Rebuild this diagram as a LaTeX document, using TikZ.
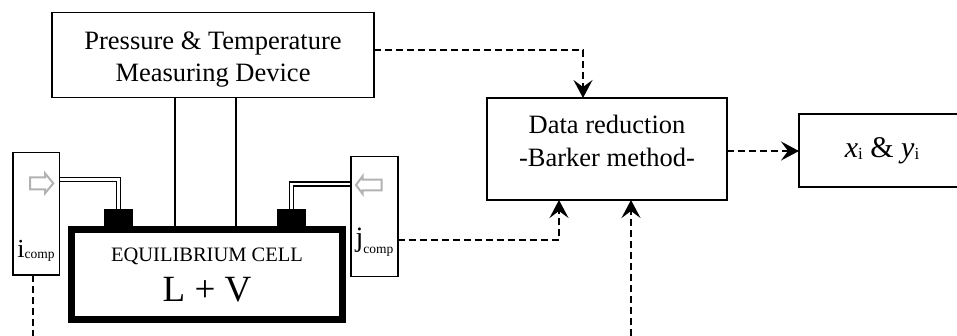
\documentclass[tikz,border=0pt]{standalone}
\usepackage{fontspec}
\setmainfont{Liberation Serif}
\usetikzlibrary{arrows.meta,calc}

\begin{document}
\begin{tikzpicture}[x=1pt,y=-1pt,
  box/.style={draw,line width=1.6pt,inner sep=0pt,outer sep=0pt},
  txt/.style={inner sep=0pt,font=\fontsize{26.5}{32.5}\selectfont},
  capblock/.style={fill=black,minimum width=29pt,minimum height=17pt,inner sep=0pt,outer sep=0pt},
  pipe/.style={draw,line width=1.4pt,double=white,double distance=2.8pt},
  wire/.style={draw,line width=1.6pt},
  dashline/.style={draw,line width=1.8pt,dash pattern=on 7pt off 4pt},
  flow/.style={dashline,-{Stealth[length=18pt,width=19pt,inset=7pt]}},
  ghost/.style={draw=black!30,line width=2pt,line join=miter}]

\useasboundingbox (0,0) rectangle (957,336);
\clip (0,0) rectangle (957,336);

% measuring device
\node[box,minimum width=322pt,minimum height=85pt] (ptd) at (213,55.2) {};
\node[txt,align=center] (ptdtext) at (213,59.5) {Pressure \& Temperature\\Measuring Device};

% data reduction
\node[box,minimum width=240pt,minimum height=102pt] (dr) at (607,149) {};
\node[txt,align=center] (drtext) at (607,141) {Data reduction\\-Barker method-};

% result box, running past the right edge of the page
\node[box,minimum width=168pt,minimum height=73pt] (xy) at (883,150.8) {};
\node[inner sep=0pt,anchor=base] (xytext) at (882,157.3)
  {\fontsize{30}{30}\selectfont\textit{x}\raisebox{-2pt}{\fontsize{17}{17}\selectfont i} \& \textit{y}\raisebox{-2pt}{\fontsize{17}{17}\selectfont i}};

% equilibrium cell
\node[draw,line width=7pt,minimum width=271pt,minimum height=90pt,inner sep=0pt,outer sep=3.5pt] (cell) at (207,274.5) {};
\node[inner sep=0pt,anchor=base] (celltitle) at (207,261.7) {\fontsize{20.5}{20.5}\selectfont EQUILIBRIUM CELL};
\node[inner sep=0pt,anchor=base] (cellphase) at (207,301.7) {\fontsize{37}{37}\selectfont L + V};

% wires from the measuring device to the cell
\coordinate (w1) at (175,0);
\coordinate (w2) at (236,0);
\draw[wire] (ptd.south -| w1) -- (cell.north -| w1);
\draw[wire] (ptd.south -| w2) -- (cell.north -| w2);

% injector boxes (outline drawn after the pipes)
\node[inner sep=0pt,outer sep=0pt,minimum width=46.6pt,minimum height=122.3pt] (ic) at (36,213.85) {};
\node[inner sep=0pt,outer sep=0pt,minimum width=46.7pt,minimum height=120pt] (jc) at (374.35,216.7) {};

% feed pipes into the cell caps
\coordinate (pl) at (118.5,179.7);
\coordinate (pr) at (291.5,184);
\draw[pipe] (ic.east |- pl) -| (118.5,209);
\draw[pipe] (jc.west |- pr) -| (291.5,209);
\node[capblock] (capl) at (118.5,217.5) {};
\node[capblock] (capr) at (291.5,217.5) {};
\draw[box] (ic.north west) rectangle (ic.south east);
\draw[box] (jc.north west) rectangle (jc.south east);

% injector labels
\node[inner sep=0pt,anchor=base] (ictext) at (36,258)
  {\fontsize{26}{26}\selectfont i\raisebox{-1pt}{\fontsize{13.5}{13.5}\selectfont comp}};
\node[inner sep=0pt,anchor=base] (jctext) at (374.5,247)
  {\fontsize{28}{28}\selectfont j\raisebox{-6.5pt}{\fontsize{13.5}{13.5}\selectfont comp}};

% hollow feed-direction arrows
\draw[ghost] (30,177.3) -- (45,177.3) -- (45,173.3) -- (53.3,183.3) -- (45,193.3) -- (45,189.3) -- (30,189.3) -- cycle;
\draw[ghost] (381.7,179.7) -- (362.7,179.7) -- (362.7,176) -- (356,185) -- (362.7,194) -- (362.7,190.3) -- (381.7,190.3) -- cycle;

% signal flow
\coordinate (ptout) at (583,50);
\draw[flow] (ptd.east |- ptout) -| (dr.north -| ptout);
\coordinate (xyin) at (0,151);
\draw[flow] (dr.east |- xyin) -- (xy.west |- xyin);
\coordinate (jcout) at (559,240);
\draw[flow] (jc.east |- jcout) -| (dr.south -| jcout);
\coordinate (bin) at (631,336);
\draw[flow] (bin) -- (dr.south -| bin);
\coordinate (icdown) at (33.3,336);
\draw[dashline] (ic.south -| icdown) -- (icdown);
\end{tikzpicture}
\end{document}
